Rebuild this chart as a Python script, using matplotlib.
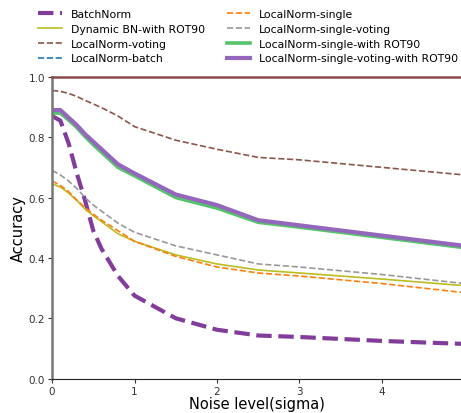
import matplotlib
matplotlib.use("Agg")
import matplotlib.pyplot as plt

# noise levels (sigma)
sigma = [0, 0.1, 0.2, 0.3, 0.4, 0.5, 0.6, 0.8, 1.0, 1.5, 2.0, 2.5, 3.0, 4.0, 5.0]

batchnorm = [0.87, 0.855, 0.78, 0.68, 0.59, 0.49, 0.43, 0.34, 0.275, 0.20, 0.162, 0.143, 0.138, 0.125, 0.115]
dynamic_bn_rot90 = [0.645, 0.635, 0.615, 0.59, 0.562, 0.54, 0.52, 0.48, 0.455, 0.41, 0.38, 0.36, 0.35, 0.33, 0.308]
ln_voting = [0.955, 0.952, 0.945, 0.935, 0.922, 0.91, 0.898, 0.87, 0.835, 0.79, 0.76, 0.733, 0.725, 0.70, 0.675]
ln_batch = [0.885, 0.884, 0.86, 0.835, 0.805, 0.778, 0.754, 0.704, 0.675, 0.604, 0.568, 0.52, 0.506, 0.47, 0.436]
ln_single = [0.655, 0.64, 0.62, 0.592, 0.566, 0.545, 0.525, 0.49, 0.455, 0.405, 0.37, 0.35, 0.34, 0.315, 0.285]
ln_single_voting = [0.69, 0.675, 0.655, 0.63, 0.60, 0.575, 0.555, 0.515, 0.485, 0.44, 0.41, 0.38, 0.37, 0.345, 0.315]
ln_single_rot90 = [0.88, 0.88, 0.857, 0.832, 0.802, 0.775, 0.75, 0.70, 0.672, 0.60, 0.565, 0.518, 0.502, 0.468, 0.434]
ln_single_voting_rot90 = [0.89, 0.89, 0.865, 0.84, 0.81, 0.785, 0.76, 0.71, 0.68, 0.61, 0.575, 0.525, 0.508, 0.474, 0.44]

fig = plt.figure(figsize=(4.61, 4.14), dpi=100)
ax = fig.add_axes([0.113, 0.083, 0.887, 0.729])

ax.axhline(1.0, color="#8c4a4a", lw=1.8, clip_on=False, zorder=5)

ax.plot(sigma, batchnorm, "--", color="#823c9a", lw=3, label="BatchNorm")
ax.plot(sigma, dynamic_bn_rot90, "-", color="#bcbd22", lw=1.2, label="Dynamic BN-with ROT90")
ax.plot(sigma, ln_voting, "--", color="#8c564b", lw=1.2, label="LocalNorm-voting")
ax.plot(sigma, ln_batch, "--", color="#1f77b4", lw=1.2, label="LocalNorm-batch")
ax.plot(sigma, ln_single, "--", color="#ff7f0e", lw=1.2, label="LocalNorm-single")
ax.plot(sigma, ln_single_voting, "--", color="#999999", lw=1.2, label="LocalNorm-single-voting")
ax.plot(sigma, ln_single_rot90, "-", color="#55c46a", lw=2.6, label="LocalNorm-single-with ROT90")
ax.plot(sigma, ln_single_voting_rot90, "-", color="#9467bd", lw=3, label="LocalNorm-single-voting-with ROT90")

ax.set_xlim(0, 4.96)
ax.set_ylim(0, 1.0)
ax.set_xticks([0, 1, 2, 3, 4])
ax.set_yticks([0.0, 0.2, 0.4, 0.6, 0.8, 1.0])
ax.tick_params(labelsize=7.5, colors="#333333", length=3, pad=2)

ax.spines["top"].set_visible(False)
ax.spines["right"].set_visible(False)
ax.spines["left"].set_color("#777777")
ax.spines["left"].set_linewidth(1.8)
ax.spines["bottom"].set_color("#222222")

ax.set_xlabel("Noise level(sigma)", fontsize=10.5, labelpad=0)
ax.set_ylabel("Accuracy", fontsize=10.5, labelpad=2)

fig.legend(loc="upper left", bbox_to_anchor=(0.062, 1.0), ncol=2, frameon=False,
           fontsize=7.8, handlelength=2.2, handletextpad=0.8, labelspacing=0.45,
           columnspacing=2.0)

fig.savefig("out.png", dpi=100)
